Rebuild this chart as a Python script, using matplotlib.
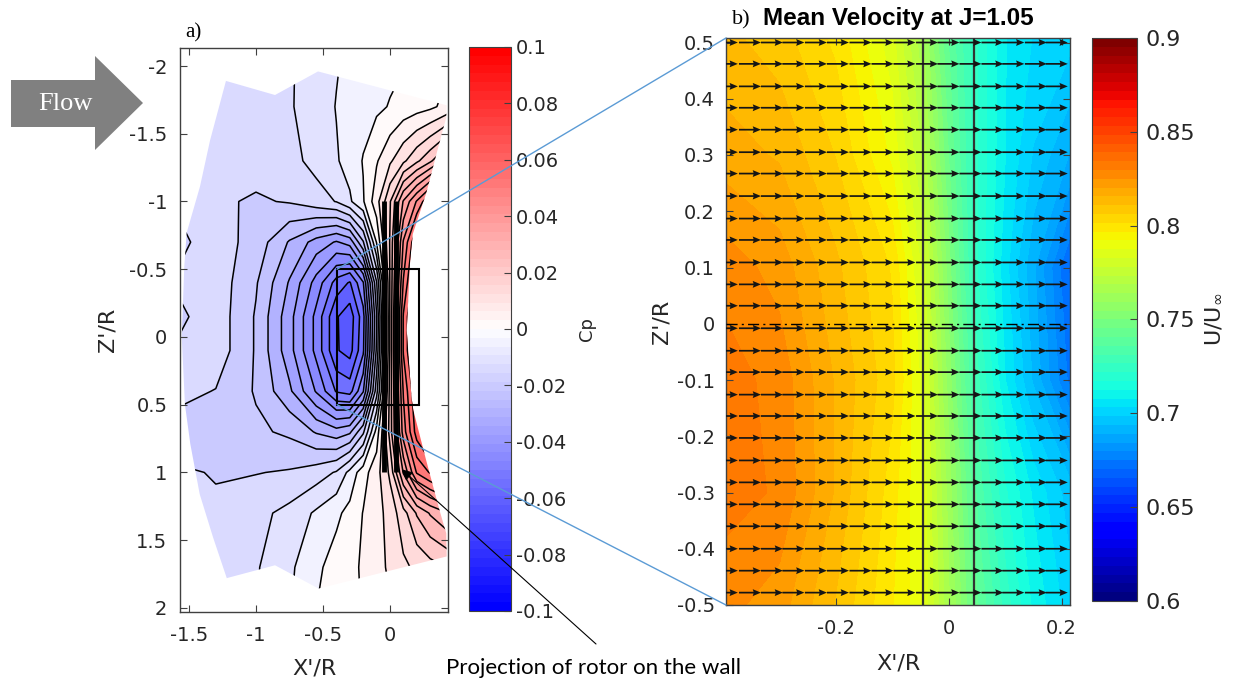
import numpy as np
import matplotlib
matplotlib.use("Agg")
import matplotlib.pyplot as plt
from matplotlib.colors import ListedColormap, Normalize
from matplotlib.patches import Polygon, Rectangle, ConnectionPatch, FancyArrowPatch
from matplotlib.cm import ScalarMappable
import matplotlib.ticker as mticker

# ---------------- panel a) : wall pressure coefficient Cp ----------------
cp_x = [-1.6, -1.3, -1.0, -0.75, -0.55, -0.4, -0.3, -0.2, -0.1, 0.0, 0.1, 0.2, 0.3, 0.45]
cp_z = [-2.1, -1.7, -1.3, -1.0, -0.7, -0.4, -0.15, 0.1, 0.4, 0.7, 1.0, 1.3, 1.7, 2.1]
cp_values = [
    [-0.0145, -0.0145, -0.0145, -0.0105, -0.008, -0.0055, -0.004, -0.003, -0.002, -0.0015, -0.001, -0.0005, 0.0005, 0.004],
    [-0.0145, -0.0145, -0.0142, -0.0105, -0.0075, -0.0048, -0.0035, -0.002, -0.001, 0.0003, 0.002, 0.003, 0.004, 0.007],
    [-0.0142, -0.0142, -0.013, -0.0115, -0.0085, -0.0055, -0.003, 0.0003, 0.0045, 0.0092, 0.014, 0.019, 0.024, 0.034],
    [-0.0145, -0.0142, -0.0156, -0.0146, -0.012, -0.0098, -0.0058, -0.0005, 0.008, 0.0195, 0.0355, 0.0455, 0.0555, 0.062],
    [-0.0165, -0.0125, -0.017, -0.0255, -0.032, -0.0355, -0.033, -0.0205, 0.0003, 0.0205, 0.0455, 0.0605, 0.0705, 0.0755],
    [-0.0145, -0.012, -0.0195, -0.0305, -0.042, -0.052, -0.0555, -0.0455, -0.0155, 0.0205, 0.0505, 0.0655, 0.0705, 0.0755],
    [-0.0165, -0.012, -0.0205, -0.033, -0.0465, -0.0595, -0.063, -0.052, -0.0205, 0.0205, 0.0555, 0.0705, 0.0755, 0.0805],
    [-0.0145, -0.012, -0.0205, -0.033, -0.0465, -0.0595, -0.062, -0.051, -0.019, 0.0205, 0.0555, 0.0705, 0.0755, 0.0805],
    [-0.0135, -0.0152, -0.0205, -0.029, -0.0405, -0.0505, -0.052, -0.0405, -0.012, 0.022, 0.0505, 0.0655, 0.0705, 0.0755],
    [-0.017, -0.018, -0.019, -0.021, -0.0255, -0.028, -0.026, -0.016, 0.002, 0.022, 0.0475, 0.0625, 0.0705, 0.0755],
    [-0.0145, -0.0152, -0.0152, -0.0145, -0.0125, -0.0095, -0.0035, 0.003, 0.008, 0.016, 0.0355, 0.0505, 0.0555, 0.062],
    [-0.0148, -0.0145, -0.0115, -0.0085, -0.0042, -0.001, 0.0015, 0.0052, 0.008, 0.012, 0.018, 0.0255, 0.0305, 0.0355],
    [-0.0148, -0.014, -0.0105, -0.006, -0.001, 0.002, 0.004, 0.0055, 0.008, 0.011, 0.014, 0.016, 0.018, 0.0205],
    [-0.0148, -0.014, -0.0102, -0.0052, 0.0003, 0.003, 0.004, 0.0052, 0.007, 0.009, 0.011, 0.012, 0.013, 0.0152],
]
# measured domain outline (X'/R, Z'/R)
domain_x = [-1.224, -0.858, -0.537, 0.423, 0.42, 0.36, 0.27, 0.17, 0.149, 0.125, 0.16, 0.174,
            0.27, 0.37, 0.42, 0.423, -0.533, -0.858, -1.218, -1.32, -1.42, -1.49, -1.53,
            -1.554, -1.535, -1.517, -1.418, -1.343]
domain_z = [-1.89, -1.786, -1.96, -1.71, -1.62, -1.40, -1.06, -0.76, -0.54, -0.05, 0.44, 0.54,
            0.91, 1.28, 1.45, 1.62, 1.857, 1.685, 1.78, 1.48, 1.16, 0.79, 0.5,
            0.0, -0.52, -0.77, -1.11, -1.45]
cp_ticks = [-0.1, -0.08, -0.06, -0.04, -0.02, 0, 0.02, 0.04, 0.06, 0.08, 0.1]
rotor_x = [-0.045, 0.045]
rotor_z = [-1.0, 1.0]

# ---------------- panel b) : mean velocity U/Uinf ----------------
u_x = [-0.4, -0.3, -0.2, -0.1, -0.05, 0.0, 0.05, 0.1, 0.15, 0.22]
u_z = [-0.52, -0.3, -0.1, 0.1, 0.3, 0.52]
u_values = [
    [0.826, 0.822, 0.810, 0.797, 0.789, 0.765, 0.742, 0.725, 0.712, 0.700],
    [0.832, 0.829, 0.815, 0.799, 0.788, 0.762, 0.735, 0.718, 0.707, 0.695],
    [0.832, 0.828, 0.815, 0.803, 0.787, 0.757, 0.728, 0.708, 0.693, 0.672],
    [0.828, 0.823, 0.812, 0.801, 0.783, 0.752, 0.722, 0.705, 0.690, 0.668],
    [0.818, 0.815, 0.806, 0.791, 0.774, 0.745, 0.722, 0.708, 0.698, 0.688],
    [0.812, 0.808, 0.800, 0.784, 0.766, 0.740, 0.722, 0.708, 0.703, 0.700],
]
arrow_x = [-0.374, -0.333, -0.294, -0.256, -0.216, -0.177, -0.137, -0.098, -0.059, -0.019,
           0.019, 0.058, 0.097, 0.134, 0.174, 0.211]
arrow_z = [0.5, 0.462, 0.422, 0.384, 0.345, 0.305, 0.267, 0.227, 0.187, 0.149, 0.109, 0.070,
           0.032, -0.008, -0.048, -0.086, -0.126, -0.164, -0.203, -0.243, -0.282, -0.321,
           -0.360, -0.400, -0.439, -0.478]
arrow_len = 0.039
u_ticks = [0.6, 0.65, 0.7, 0.75, 0.8, 0.85, 0.9]
b_xlim = (-0.395, 0.215)
b_zlim = (-0.5, 0.508)

# ---------------- styling ----------------
plt.rcParams["font.family"] = ["DejaVu Sans"]
plt.rcParams["axes.unicode_minus"] = False
TXT = "#262626"
FRAME = "#404040"

fig = plt.figure(figsize=(12.48, 6.82), dpi=100)
W, H = 1248.0, 682.0
def box(x0, y0, x1, y1):
    return [x0 / W, 1 - y1 / H, (x1 - x0) / W, (y1 - y0) / H]

ax1 = fig.add_axes(box(180, 48, 448, 612))
cax1 = fig.add_axes(box(469, 47, 511, 611))
ax2 = fig.add_axes(box(726, 38, 1070, 605))
cax2 = fig.add_axes(box(1092, 38, 1137, 601))

fmt = mticker.FuncFormatter(lambda v, p: "%g" % round(v, 4))

def style_axes(ax, ypad):
    for s in ax.spines.values():
        s.set_color(FRAME)
        s.set_linewidth(1.0)
    ax.tick_params(direction="in", length=5, width=0.8, color=FRAME, labelcolor=TXT,
                   labelsize=14, top=True, right=True)
    ax.tick_params(axis="x", pad=10)
    ax.tick_params(axis="y", pad=ypad)

# ----- panel a -----
cmap_cp = ListedColormap(plt.get_cmap("bwr")(np.linspace(0, 1, 64)))
norm_cp = Normalize(-0.1, 0.1)
levels_cp = np.arange(-0.1, 0.1001, 0.005)
band_colors = [cmap_cp(norm_cp(v)) for v in levels_cp[:-1]]
X, Z = np.meshgrid(cp_x, cp_z)
C = np.array(cp_values)
clip = Polygon(np.column_stack([domain_x, domain_z]), closed=True, facecolor="none",
               edgecolor="none", transform=ax1.transData)
ax1.add_patch(clip)
cf = ax1.contourf(X, Z, C, levels=levels_cp, colors=band_colors)
cl = ax1.contour(X, Z, C, levels=levels_cp, colors="k", linewidths=1.1, linestyles="solid")
cf.set_clip_path(clip)
cl.set_clip_path(clip)
for rx in rotor_x:
    ax1.plot([rx, rx], rotor_z, color="k", lw=3.5, solid_capstyle="butt", zorder=4)
ax1.add_patch(Rectangle((b_xlim[0], -0.5), b_xlim[1] - b_xlim[0], 1.0, fill=False,
                        edgecolor="k", lw=1.5, zorder=5))
ax1.set_xlim(-1.567, 0.433)
ax1.set_ylim(2.03, -2.133)
ax1.set_xticks([-1.5, -1, -0.5, 0])
ax1.set_yticks([-2, -1.5, -1, -0.5, 0, 0.5, 1, 1.5, 2])
ax1.xaxis.set_major_formatter(fmt)
ax1.yaxis.set_major_formatter(fmt)
style_axes(ax1, 9)
ax1.set_xlabel("X'/R", fontsize=16, color=TXT)
ax1.set_ylabel("Z'/R", fontsize=16, color=TXT)
ax1.xaxis.set_label_coords(0.5, -0.083)
ax1.yaxis.set_label_coords(-0.235, 0.5)

cb1 = fig.colorbar(ScalarMappable(norm_cp, cmap_cp), cax=cax1)
cb1.set_ticks(cp_ticks)
cb1.ax.yaxis.set_major_formatter(fmt)
cb1.outline.set_edgecolor(FRAME)
cb1.ax.tick_params(direction="in", length=5, width=0.8, color=FRAME, labelcolor=TXT, labelsize=14)
cb1.set_label("Cp", fontsize=13, color=TXT)
cb1.ax.yaxis.set_label_coords(2.6, 0.5)

# ----- panel b -----
cmap_u = ListedColormap(plt.get_cmap("jet")(np.linspace(0, 1, 64)))
UX, UZ = np.meshgrid(u_x, u_z)
ax2.contourf(UX, UZ, np.array(u_values), levels=np.linspace(0.6, 0.9, 65), cmap=cmap_u,
             vmin=0.6, vmax=0.9)
for rx in rotor_x:
    ax2.axvline(rx, color="#333333", lw=1.6, zorder=3)
ax2.axhline(0, color="k", lw=1.0, ls=(0, (8, 3, 1.5, 3)), zorder=3)
AX, AZ = np.meshgrid(arrow_x, arrow_z)
ax2.quiver(AX, AZ, np.full(AX.shape, arrow_len), np.zeros(AX.shape), angles="xy",
           scale_units="xy", scale=1, pivot="tip", color="#151515", width=0.005,
           headwidth=4.0, headlength=4.8, headaxislength=4.3, zorder=4)
ax2.set_xlim(*b_xlim)
ax2.set_ylim(*b_zlim)
ax2.set_xticks([-0.2, 0, 0.2])
ax2.set_yticks([-0.5, -0.4, -0.3, -0.2, -0.1, 0, 0.1, 0.2, 0.3, 0.4, 0.5])
ax2.xaxis.set_major_formatter(fmt)
ax2.yaxis.set_major_formatter(fmt)
style_axes(ax2, 8)
ax2.set_xlabel("X'/R", fontsize=16, color=TXT)
ax2.set_ylabel("Z'/R", fontsize=16, color=TXT)
ax2.xaxis.set_label_coords(0.5, -0.085)
ax2.yaxis.set_label_coords(-0.157, 0.5)
ax2.set_title("Mean Velocity at J=1.05", fontsize=17.5, fontweight="bold", color="k", pad=9,
              family="Liberation Sans")

cb2 = fig.colorbar(ScalarMappable(Normalize(0.6, 0.9), cmap_u), cax=cax2)
cb2.set_ticks(u_ticks)
cb2.ax.yaxis.set_major_formatter(fmt)
cb2.outline.set_edgecolor(FRAME)
cb2.ax.tick_params(direction="in", length=5, width=0.8, color=FRAME, labelcolor=TXT,
                   labelsize=16, pad=6)
cb2.set_label(r"U/U$_{\infty}$", fontsize=16, color=TXT)
cb2.ax.yaxis.set_label_coords(2.47, 0.5)

# ----- zoom connectors -----
for za, zb in [(-0.5, b_zlim[1]), (0.5, b_zlim[0])]:
    con = ConnectionPatch(xyA=(b_xlim[0], za), coordsA=ax1.transData,
                          xyB=(b_xlim[0], zb), coordsB=ax2.transData,
                          color="#5B9BD5", lw=1.0, zorder=10)
    fig.add_artist(con)

# ----- annotations -----
def fp(x, y):
    return (x / W, 1 - y / H)

flow_pts = [fp(11, 80), fp(95, 80), fp(95, 56), fp(143, 103), fp(95, 150), fp(95, 127), fp(11, 127)]
fig.add_artist(Polygon(flow_pts, closed=True, facecolor="#808080", edgecolor="none",
                       transform=fig.transFigure))
fig.text(*fp(65, 104), "Flow", color="white", fontsize=19, family="Liberation Serif",
         ha="center", va="center")
fig.text(*fp(193, 33), "a)", fontsize=15, family="Liberation Serif", ha="center", va="center")
fig.text(*fp(741, 20), "b)", fontsize=16, family="Liberation Serif", ha="center", va="center")
fig.text(*fp(594, 668), "Projection of rotor on the wall", fontsize=16, family="Lato",
         ha="center", va="center", color="k")
fig.add_artist(FancyArrowPatch(fp(596, 644), fp(401.7, 469.3), transform=fig.transFigure,
                               arrowstyle="-|>", mutation_scale=16, lw=0.8, color="k",
                               shrinkA=0, shrinkB=0))

fig.savefig("out.png", dpi=100)
